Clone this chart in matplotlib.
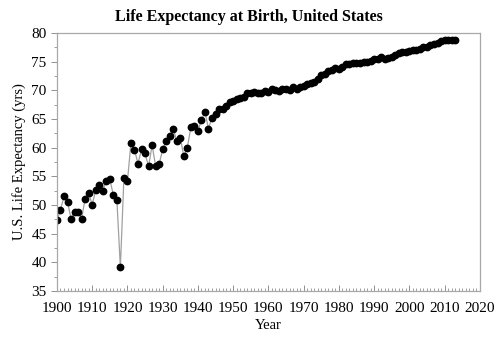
import matplotlib
matplotlib.use('Agg')
import matplotlib.pyplot as plt
from matplotlib.ticker import MultipleLocator

# US life expectancy at birth, 1900-2013
years = list(range(1900, 2014))
life_exp = [
    47.3, 49.1, 51.5, 50.5, 47.6, 48.7, 48.7, 47.6, 51.1, 52.1,
    50.0, 52.6, 53.5, 52.5, 54.2, 54.5, 51.7, 50.9, 39.1, 54.7,
    54.1, 60.8, 59.6, 57.2, 59.7, 59.0, 56.7, 60.4, 56.8, 57.1,
    59.7, 61.1, 62.1, 63.3, 61.1, 61.7, 58.5, 60.0, 63.5, 63.7,
    62.9, 64.8, 66.2, 63.3, 65.2, 65.9, 66.7, 66.8, 67.2, 68.0,
    68.2, 68.4, 68.6, 68.8, 69.6, 69.6, 69.7, 69.5, 69.6, 69.9,
    69.7, 70.2, 70.1, 69.9, 70.2, 70.2, 70.1, 70.5, 70.2, 70.5,
    70.8, 71.1, 71.2, 71.4, 72.0, 72.6, 72.9, 73.3, 73.5, 73.9,
    73.7, 74.1, 74.5, 74.6, 74.7, 74.7, 74.7, 74.9, 74.9, 75.1,
    75.4, 75.5, 75.8, 75.5, 75.7, 75.8, 76.1, 76.5, 76.7, 76.7,
    76.8, 77.0, 77.0, 77.2, 77.6, 77.6, 77.8, 78.1, 78.2, 78.5,
    78.7, 78.7, 78.8, 78.8,
]

plt.rcParams['font.family'] = ['Liberation Serif', 'DejaVu Serif']

fig = plt.figure(figsize=(5.04, 3.39), dpi=100)
ax = fig.add_axes([0.113, 0.142, 0.839, 0.761])

ax.plot(years, life_exp, color='#a0a0a0', linewidth=0.9, zorder=1)
ax.plot(years, life_exp, linestyle='none', marker='o', markersize=4.6,
        color='black', zorder=2)

ax.set_xlim(1900, 2020)
ax.set_ylim(35, 80)
ax.xaxis.set_major_locator(MultipleLocator(10))
ax.xaxis.set_minor_locator(MultipleLocator(1))
ax.yaxis.set_major_locator(MultipleLocator(5))
ax.yaxis.set_minor_locator(MultipleLocator(2.5))

ax.tick_params(axis='both', which='major', labelsize=11, length=4,
               width=0.7, color='#909090', direction='out')
ax.tick_params(axis='both', which='minor', length=2, width=0.6,
               color='#909090', direction='out')
ax.tick_params(axis='x', which='both', direction='in')
ax.tick_params(axis='x', which='major', pad=8)

for side in ax.spines.values():
    side.set_color('#a8a8a8')
    side.set_linewidth(0.9)

ax.set_xlabel('Year', fontsize=10.5, labelpad=3)
ax.set_ylabel('U.S. Life Expectancy (yrs)', fontsize=10.5, labelpad=4)
fig.text(249 / 504, 1 - 17 / 339, 'Life Expectancy at Birth, United States',
         fontsize=11.5, fontweight='bold', ha='center', va='center')

fig.savefig('out.png', dpi=100)
